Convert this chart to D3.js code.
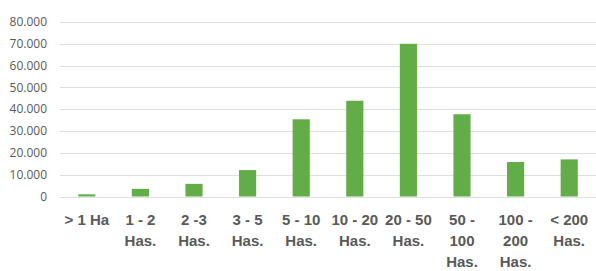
<!DOCTYPE html>
<html>
	<head>
		<script src="https://d3js.org/d3.v7.min.js"></script>
		<style>
			body { margin: 0; background: #fff; }
			.ytick { font-family: "Open Sans", "Liberation Sans", sans-serif; font-size: 12px; fill: #595959; }
			.xlab { font-family: "Liberation Sans Narrow", "Arial Narrow", "Liberation Sans", sans-serif; font-size: 15px; font-weight: bold; fill: #595959; }
		</style>
	</head>
	<body>
		<svg width="596" height="271"></svg>
		<script>
			// categories (line-split labels) and values
			var categories = ["> 1 Ha", "1 - 2 Has.", "2 -3 Has.", "3 - 5 Has.", "5 - 10 Has.",
				"10 - 20 Has.", "20 - 50 Has.", "50 - 100 Has.", "100 - 200 Has.", "< 200 Has."];
			var labelLines = [["> 1 Ha"], ["1 - 2", "Has."], ["2 -3", "Has."], ["3 - 5", "Has."], ["5 - 10", "Has."],
				["10 - 20", "Has."], ["20 - 50", "Has."], ["50 -", "100", "Has."], ["100 -", "200", "Has."], ["< 200", "Has."]];
			var values = [1000, 3500, 5800, 12100, 35400, 43900, 70000, 37700, 15800, 17000];
			var yTicks = [0, 10000, 20000, 30000, 40000, 50000, 60000, 70000, 80000];

			var svg = d3.select("svg");
			var plotLeft = 60, plotRight = 596, plotTop = 22, plotBottom = 196.5;

			var x = d3.scaleBand().domain(categories).range([plotLeft, plotRight]).paddingInner(0.68).paddingOuter(0.34);
			var y = d3.scaleLinear().domain([0, 80000]).range([plotBottom, plotTop]);

			var fmt = function(d) { return d3.format(",")(d).replace(/,/g, "."); };

			// gridlines
			svg.append("g").selectAll("line")
				.data(yTicks).enter()
				.append("line")
				.attr("x1", plotLeft).attr("x2", plotRight)
				.attr("y1", function(d) { return Math.round(y(d)) + 0.5; })
				.attr("y2", function(d) { return Math.round(y(d)) + 0.5; })
				.attr("stroke", "#dedede").attr("stroke-width", 1);

			// y labels
			svg.append("g").selectAll("text")
				.data(yTicks).enter()
				.append("text")
				.attr("class", "ytick")
				.attr("x", 47)
				.attr("y", function(d) { return y(d); })
				.attr("dy", "0.35em")
				.attr("text-anchor", "end")
				.text(fmt);

			// bars
			svg.append("g").selectAll("rect")
				.data(values).enter()
				.append("rect")
				.attr("x", function(d, i) { return x(categories[i]); })
				.attr("width", x.bandwidth())
				.attr("y", function(d) { return y(d); })
				.attr("height", function(d) { return y(0) - y(d); })
				.attr("fill", "#62ad47");

			// x labels
			var lab = svg.append("g").selectAll("text")
				.data(labelLines).enter()
				.append("text")
				.attr("class", "xlab")
				.attr("text-anchor", "middle")
				.attr("x", function(d, i) { return x(categories[i]) + x.bandwidth() / 2; })
				.attr("y", 225);
			lab.selectAll("tspan")
				.data(function(d) { return d; }).enter()
				.append("tspan")
				.attr("x", function() { return d3.select(this.parentNode).attr("x"); })
				.attr("dy", function(d, j) { return j === 0 ? 0 : 21; })
				.text(function(d) { return d; });
		</script>
	</body>
</html>
